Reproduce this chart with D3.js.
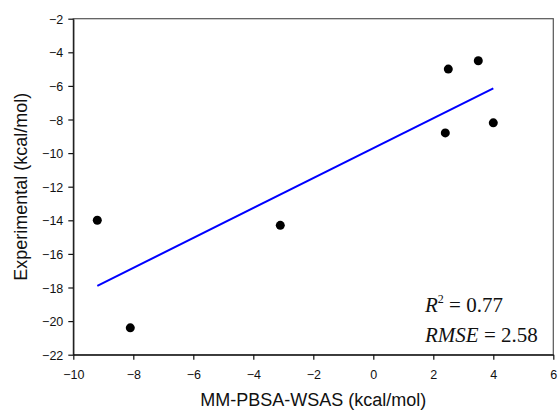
<!DOCTYPE html>
<html><head><meta charset="utf-8">
<script src="https://cdn.jsdelivr.net/npm/d3@7"></script>
<style>
html,body{margin:0;padding:0;background:#fff;}
svg{display:block;font-family:"Liberation Sans",Arial,sans-serif;}
</style></head>
<body>
<svg id="chart" width="559" height="415"></svg>
<script>
const xValues = [-9.2, -8.1, -3.1, 2.5, 3.5, 2.4, 4.0];
const yValues = [-14.0, -20.4, -14.3, -5.0, -4.5, -8.8, -8.2];
const fitX = [-9.2, 4.0];
const fitY = [-17.9, -6.15];
const xTicks = [-10, -8, -6, -4, -2, 0, 2, 4, 6];
const yTicks = [-22, -20, -18, -16, -14, -12, -10, -8, -6, -4, -2];

const svg = d3.select("#chart");
const m = {left: 73.3, top: 18.7, right: 553.3, bottom: 354.7};
const x = d3.scaleLinear().domain([-10, 6]).range([m.left, m.right]);
const y = d3.scaleLinear().domain([-22, -2]).range([m.bottom, m.top]);

// frame
svg.append("rect").attr("x", m.left).attr("y", m.top)
  .attr("width", m.right - m.left).attr("height", m.bottom - m.top)
  .attr("fill", "none").attr("stroke", "#555").attr("stroke-width", 1.2);

const xAxis = svg.append("g").attr("transform", `translate(0,${m.bottom})`)
  .call(d3.axisBottom(x).tickValues(xTicks).tickSize(5).tickSizeOuter(0).tickPadding(10));
const yAxis = svg.append("g").attr("transform", `translate(${m.left},0)`)
  .call(d3.axisLeft(y).tickValues(yTicks).tickSize(5).tickSizeOuter(0).tickPadding(5));
[xAxis, yAxis].forEach(g => {
  g.selectAll("path, line").attr("stroke", "#111").attr("stroke-width", 1.2);
  g.selectAll("text").attr("font-family", "Liberation Sans, Arial, sans-serif")
    .attr("font-size", 12.5).attr("fill", "#111");
});
yAxis.selectAll("text").attr("dy", "0.36em");

// fit line
const line = d3.line().x(d => x(d[0])).y(d => y(d[1]));
svg.append("path").datum(d3.zip(fitX, fitY)).attr("d", line)
  .attr("fill", "none").attr("stroke", "#0000ff").attr("stroke-width", 2);

// points
svg.append("g").selectAll("circle").data(d3.zip(xValues, yValues)).join("circle")
  .attr("cx", d => x(d[0])).attr("cy", d => y(d[1])).attr("r", 4.5).attr("fill", "#000");

// axis titles
svg.append("text").attr("x", (m.left + m.right) / 2).attr("y", 406)
  .attr("text-anchor", "middle").attr("font-size", 18).attr("fill", "#111")
  .text("MM-PBSA-WSAS (kcal/mol)");
svg.append("text").attr("transform", `translate(27,${(m.top + m.bottom) / 2}) rotate(-90)`)
  .attr("text-anchor", "middle").attr("font-size", 18).attr("fill", "#111")
  .text("Experimental (kcal/mol)");

// annotations
const ann = svg.append("g").attr("font-family", "Liberation Serif, Times New Roman, serif")
  .attr("font-size", 21).attr("fill", "#111");
const t1 = ann.append("text").attr("x", 425).attr("y", 311.5).attr("xml:space", "preserve");
t1.append("tspan").attr("font-style", "italic").text("R");
t1.append("tspan").attr("font-size", 12).attr("dy", -9).text("2");
t1.append("tspan").attr("dy", 9).text(" = 0.77");
const t2 = ann.append("text").attr("x", 425).attr("y", 341.5).attr("xml:space", "preserve");
t2.append("tspan").attr("font-style", "italic").text("RMSE");
t2.append("tspan").text(" = 2.58");
</script>
</body></html>
